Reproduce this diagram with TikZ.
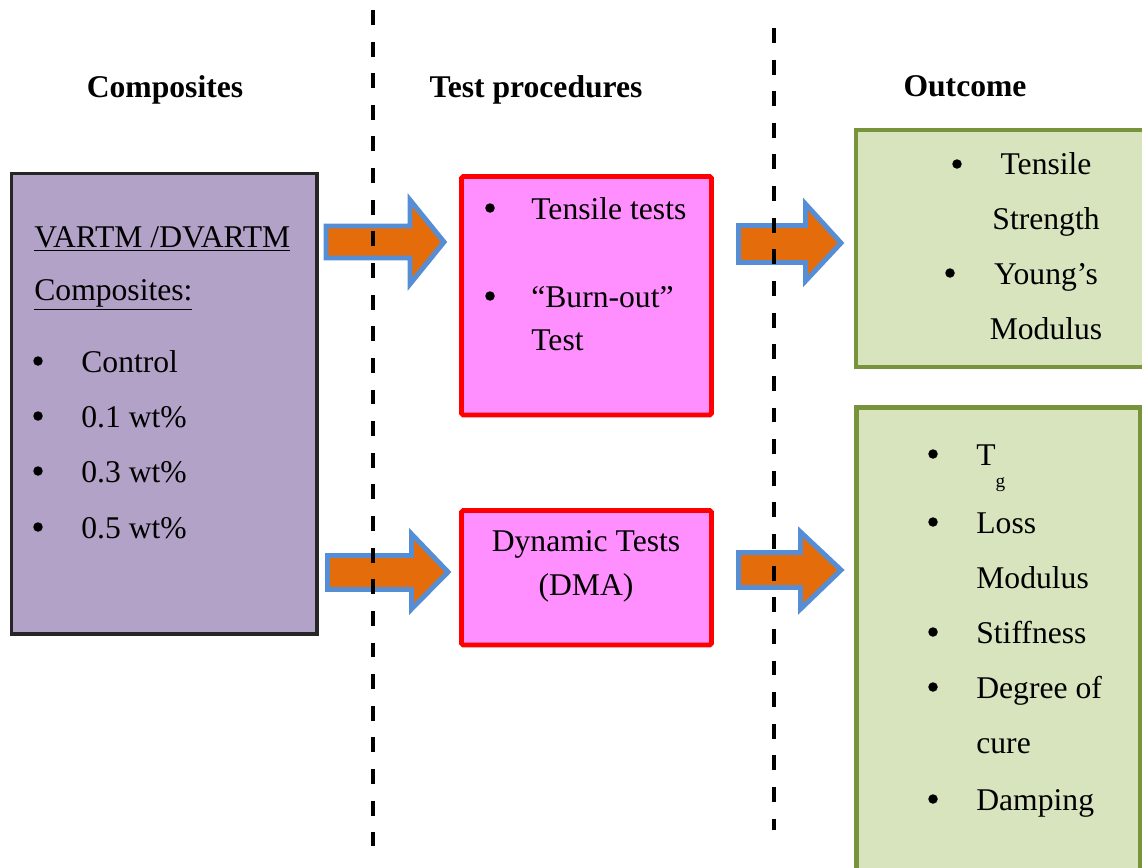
\documentclass[tikz,border=0pt]{standalone}
\usepackage{fontspec}
\setmainfont{Liberation Serif}
\definecolor{lilac}{HTML}{B3A2C7}
\definecolor{boxpink}{HTML}{FF8FFF}
\definecolor{sage}{HTML}{D7E4BD}
\definecolor{olive}{HTML}{77933C}
\definecolor{arrowfill}{HTML}{E46C0A}
\definecolor{arrowline}{HTML}{558ED5}
\tikzset{
  txt/.style={anchor=base west, inner sep=0pt, font=\fontsize{18}{22}\selectfont},
  ctxt/.style={txt, anchor=base},
  head/.style={ctxt, font=\fontsize{18}{22}\selectfont\bfseries},
  dot/.style={circle, fill=black, inner sep=0pt, minimum size=0.19cm, yshift=0.22cm},
  fatarrow/.style={fill=arrowfill, draw=arrowline, line width=2.8pt, line join=miter},
  divider/.style={line width=2.3pt, dash pattern=on 8.5pt off 9.5pt}
}
\begin{document}
\begin{tikzpicture}[x=0.02cm,y=-0.02cm]
    \useasboundingbox (0,0) rectangle (1142,868);
    % boxes
    \draw[fill=lilac, draw=black!85, line width=2pt] (11.5,173.5) rectangle (317,634);
    \draw[fill=boxpink, draw=red, line width=2.8pt, rounded corners=1pt] (461.5,176.5) rectangle (711.5,415);
    \draw[fill=boxpink, draw=red, line width=2.8pt, rounded corners=1pt] (461.5,510.5) rectangle (711.5,645);
    \draw[fill=sage, draw=olive, line width=2.8pt] (856,130) rectangle (1160,367);
    \draw[fill=sage, draw=olive, line width=2.8pt] (856.5,407.5) rectangle (1140,890);

    % block arrows
    \draw[fatarrow] (326,226) -- (410,226) -- (410,200) -- (444,242) -- (410,284) -- (410,258) -- (326,258) -- cycle;
    \draw[fatarrow] (327.5,555.5) -- (411.5,555.5) -- (411.5,534) -- (448,572) -- (411.5,609) -- (411.5,589.5) -- (327.5,589.5) -- cycle;
    \draw[fatarrow] (738.5,225.5) -- (805.5,225.5) -- (805.5,204) -- (841,243) -- (805.5,281) -- (805.5,262.5) -- (738.5,262.5) -- cycle;
    \draw[fatarrow] (738.5,552.5) -- (800.5,552.5) -- (800.5,532) -- (841,570) -- (800.5,609) -- (800.5,587.5) -- (738.5,587.5) -- cycle;

    % dashed separators
    \draw[divider] (373,10) -- (373,846);
    \draw[divider] (774,28) -- (774,830);

    % headings
    \node[head] (hcomp) at (165,98) {Composites};
    \node[head] (htest) at (536,98) {Test procedures};
    \node[head] (hout) at (965,97) {Outcome};

    % composites
    \node[txt] (vartm) at (34,247) {\underline{VARTM /DVARTM}};
    \node[txt] (comp) at (34,300) {\underline{Composites:}};
    \node[dot] (d1) at (38,372) {};
    \node[txt] (ctrl) at (81,372) {Control};
    \node[dot] (d2) at (38,427) {};
    \node[txt] (w1) at (81,427) {0.1 wt\%};
    \node[dot] (d3) at (38,482) {};
    \node[txt] (w3) at (81,482) {0.3 wt\%};
    \node[dot] (d4) at (38,538) {};
    \node[txt] (w5) at (81,538) {0.5 wt\%};

    % test procedures
    \node[dot] (p1) at (490,219) {};
    \node[txt] (tens) at (531,219) {Tensile tests};
    \node[dot] (p2) at (490,307) {};
    \node[txt] (burn) at (531,307) {``Burn-out''};
    \node[txt] (burn2) at (531,350) {Test};
    \node[ctxt] (dyn) at (586,551) {Dynamic Tests};
    \node[ctxt] (dma) at (586,595) {(DMA)};

    % outcome
    \node[dot] (o1) at (957,175) {};
    \node[ctxt] (ts) at (1046,175) {Tensile};
    \node[ctxt] (ts2) at (1046,230) {Strength};
    \node[dot] (o2) at (950,284) {};
    \node[ctxt] (ym) at (1046,284) {Young's};
    \node[ctxt] (ym2) at (1046,339) {Modulus};

    \node[dot] (q1) at (933,465) {};
    \node[txt] (tg) at (976,465) {T\raisebox{-13pt}{\fontsize{11}{11}\selectfont g}};
    \node[dot] (q2) at (933,533) {};
    \node[txt] (loss) at (976,533) {Loss};
    \node[txt] (loss2) at (976,588) {Modulus};
    \node[dot] (q3) at (933,643) {};
    \node[txt] (stiff) at (976,643) {Stiffness};
    \node[dot] (q4) at (933,698) {};
    \node[txt] (cure) at (976,698) {Degree of};
    \node[txt] (cure2) at (976,753) {cure};
    \node[dot] (q5) at (933,810) {};
    \node[txt] (damp) at (976,810) {Damping};
\end{tikzpicture}
\end{document}
